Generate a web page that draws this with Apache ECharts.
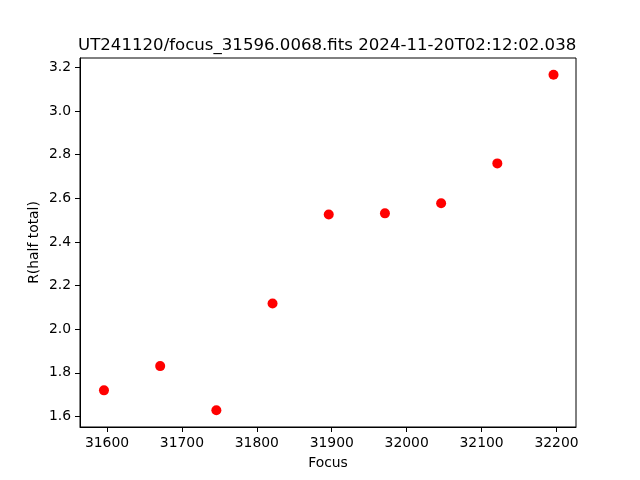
<!DOCTYPE html>
<html>
<head>
<meta charset="utf-8">
<script src="https://cdn.jsdelivr.net/npm/echarts@6/dist/echarts.min.js"></script>
<style>html,body{margin:0;padding:0;background:#fff}#c{width:640px;height:480px}</style>
</head>
<body>
<div id="c"></div>
<script>
const titleText = "UT241120/focus_31596.0068.fits 2024-11-20T02:12:02.038";
const focusValues = [31596, 31671, 31746, 31821, 31896, 31971, 32046, 32121, 32196];
const radiusValues = [1.720, 1.831, 1.629, 2.118, 2.526, 2.531, 2.577, 2.760, 3.166];
const xTicks = [31600, 31700, 31800, 31900, 32000, 32100, 32200];
const yTicks = [1.6, 1.8, 2.0, 2.2, 2.4, 2.6, 2.8, 3.0, 3.2];
const xLabel = "Focus";
const yLabel = "R(half total)";

const font = "DejaVu Sans";
const chart = echarts.init(document.getElementById('c'), null, {renderer: 'canvas'});
chart.setOption({
  animation: false,
  backgroundColor: '#fff',
  title: {
    text: titleText, left: 73, top: 32,
    textStyle: {fontFamily: font, fontSize: 16.6, fontWeight: 'normal', color: '#000'}
  },
  grid: {left: 80, right: 64, top: 58, bottom: 53, show: true, borderColor: '#000', borderWidth: 1, backgroundColor: 'transparent'},
  xAxis: {
    type: 'value', min: 31564, max: 32226,
    name: xLabel, nameLocation: 'middle', nameGap: 29, nameMoveOverlap: false,
    nameTextStyle: {fontFamily: font, fontSize: 13.9, color: '#000'},
    axisLine: {show: true, onZero: false, lineStyle: {color: '#000', width: 1}},
    axisTick: {show: true, length: 5, inside: false, lineStyle: {color: '#000'}, customValues: xTicks},
    axisLabel: {fontFamily: font, fontSize: 13.9, color: '#000', margin: 9, customValues: xTicks,
      formatter: v => String(v)},
    splitLine: {show: false}
  },
  yAxis: {
    type: 'value', min: 1.552, max: 3.243,
    name: yLabel, nameLocation: 'middle', nameGap: 39, nameRotate: 90, nameMoveOverlap: false,
    nameTextStyle: {fontFamily: font, fontSize: 13.9, color: '#000'},
    axisLine: {show: true, onZero: false, lineStyle: {color: '#000', width: 1}},
    axisTick: {show: true, length: 5, inside: false, lineStyle: {color: '#000'}, customValues: yTicks},
    axisLabel: {fontFamily: font, fontSize: 13.9, color: '#000', margin: 9, customValues: yTicks,
      formatter: v => v.toFixed(1)},
    splitLine: {show: false}
  },
  series: [{
    type: 'scatter',
    data: focusValues.map((f, i) => [f, radiusValues[i]]),
    symbol: 'circle', symbolSize: 10,
    itemStyle: {color: '#ff0000', opacity: 1}
  }]
});
</script>
</body>
</html>
